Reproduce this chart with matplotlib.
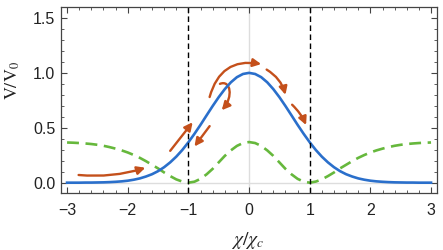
import numpy as np
import matplotlib.pyplot as plt
from matplotlib.patches import FancyArrowPatch
from matplotlib.path import Path

# values, step 0.1 in chi/chi_c
chi = [-3.0, -2.9, -2.8, -2.7, -2.6, -2.5, -2.4, -2.3, -2.2, -2.1,
       -2.0, -1.9, -1.8, -1.7, -1.6, -1.5, -1.4, -1.3, -1.2, -1.1,
       -1.0, -0.9, -0.8, -0.7, -0.6, -0.5, -0.4, -0.3, -0.2, -0.1,
       0.0, 0.1, 0.2, 0.3, 0.4, 0.5, 0.6, 0.7, 0.8, 0.9,
       1.0, 1.1, 1.2, 1.3, 1.4, 1.5, 1.6, 1.7, 1.8, 1.9,
       2.0, 2.1, 2.2, 2.3, 2.4, 2.5, 2.6, 2.7, 2.8, 2.9, 3.0]
v_pot = [0.0, 0.0, 0.0, 0.001, 0.001, 0.002, 0.003, 0.005, 0.008, 0.012,
         0.018, 0.027, 0.039, 0.056, 0.077, 0.105, 0.141, 0.185, 0.237, 0.298,
         0.368, 0.445, 0.527, 0.613, 0.698, 0.779, 0.852, 0.914, 0.961, 0.990,
         1.0, 0.990, 0.961, 0.914, 0.852, 0.779, 0.698, 0.613, 0.527, 0.445,
         0.368, 0.298, 0.237, 0.185, 0.141, 0.105, 0.077, 0.056, 0.039, 0.027,
         0.018, 0.012, 0.008, 0.005, 0.003, 0.002, 0.001, 0.001, 0.0, 0.0, 0.0]
v_green = [0.366, 0.364, 0.361, 0.357, 0.352, 0.345, 0.336, 0.324, 0.31, 0.294,
           0.275, 0.252, 0.226, 0.196, 0.163, 0.13, 0.093, 0.06, 0.03, 0.01,
           0.0, 0.009, 0.035, 0.076, 0.126, 0.185, 0.244, 0.294, 0.335, 0.361,
           0.37, 0.361, 0.335, 0.294, 0.244, 0.185, 0.126, 0.076, 0.035, 0.009,
           0.0, 0.01, 0.03, 0.06, 0.093, 0.13, 0.163, 0.196, 0.226, 0.252,
           0.275, 0.294, 0.31, 0.324, 0.336, 0.345, 0.352, 0.357, 0.361, 0.364, 0.366]
chi_crit = [-1.0, 1.0]

xticks = [-3, -2, -1, 0, 1, 2, 3]
yticks = [0.0, 0.5, 1.0, 1.5]

# arrows: (start, end, curvature)
arrows = [
    ((-2.81, 0.07), (-1.71, 0.136), 0.1),
    ((-1.30, 0.29), (-0.93, 0.55), 0.0),
    ((-0.65, 0.515), (-0.90, 0.33), 0.0),
    ((-0.65, 0.78), (0.20, 1.08), -0.45),
    ((0.29, 1.03), (0.60, 0.80), -0.2),
    ((0.71, 0.71), (0.94, 0.525), -0.1),
]
hook = [(-0.48, 0.90), (-0.30, 0.94), (-0.26, 0.78), (-0.45, 0.66)]

blue = '#2a6fcb'
green = '#66b83c'
orange = '#c4501b'

plt.rcParams['font.family'] = ['Liberation Sans', 'DejaVu Sans']
plt.rcParams['mathtext.fontset'] = 'stix'

fig = plt.figure(figsize=(4.43, 2.50), dpi=100)
ax = fig.add_axes([0.1377, 0.228, 0.849, 0.744])

ax.axhline(0, color='#dddddd', lw=1, zorder=0)
ax.axvline(0, color='#dddddd', lw=1, zorder=0)

ax.plot(chi, v_green, color=green, lw=1.9, dashes=(4.5, 2.5))
ax.plot(chi, v_pot, color=blue, lw=1.9)
for xc in chi_crit:
    ax.axvline(xc, color='black', lw=1, dashes=(4, 2.5))

for start, end, rad in arrows:
    ax.annotate('', xy=end, xytext=start,
                arrowprops=dict(arrowstyle='-|>', color=orange, lw=1.7,
                                mutation_scale=12, shrinkA=0, shrinkB=0,
                                connectionstyle='arc3,rad=%g' % rad))
hp = FancyArrowPatch(path=Path(hook, [Path.MOVETO, Path.CURVE4, Path.CURVE4, Path.CURVE4]),
                     arrowstyle='-|>', color=orange, lw=1.7, mutation_scale=12)
ax.add_patch(hp)

ax.set_xlim(-3.1, 3.1)
ax.set_ylim(-0.094, 1.6)
ax.set_xticks(xticks)
ax.set_xticklabels(['\u22123', '\u22122', '\u22121', '0', '1', '2', '3'])
ax.set_yticks(yticks)
ax.set_yticklabels(['0.0', '0.5', '1.0', '1.5'])
ax.set_xticks(np.arange(-3, 3.01, 0.2), minor=True)
ax.set_yticks(np.arange(0, 1.61, 0.1), minor=True)
ax.tick_params(which='both', direction='in', top=True, right=True, colors='#444444',
               labelcolor='#222222', labelsize=11.5)
ax.tick_params(which='major', length=4, width=0.8)
ax.tick_params(which='minor', length=2.2, width=0.6)
ax.tick_params(axis='x', pad=7)
ax.tick_params(axis='y', pad=4)
for s in ax.spines.values():
    s.set_color('#444444')
    s.set_linewidth(0.9)

ax.set_xlabel(r'$\chi/\chi_c$', fontsize=14, color='#222222')
ax.xaxis.set_label_coords(0.495, -0.2)
ax.set_ylabel(r'$\mathrm{V/V_0}$', fontsize=13, color='#222222', va='center')
ax.yaxis.set_label_coords(-0.129, 0.607)

fig.savefig('out.png', dpi=100)
